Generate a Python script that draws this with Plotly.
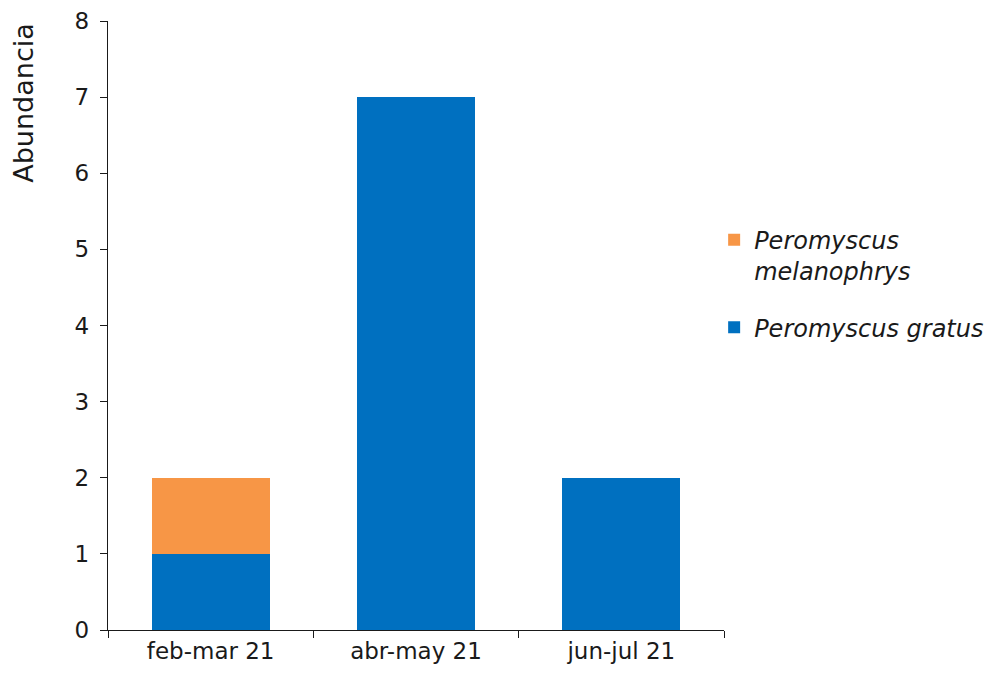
import plotly.graph_objects as go

# Sampling periods and abundance of each species
periods = ["feb-mar 21", "abr-may 21", "jun-jul 21"]
gratus = [1, 7, 2]
melanophrys = [1, 0, 0]

y_ticks = [0, 1, 2, 3, 4, 5, 6, 7, 8]

BLUE = "#0070C0"
ORANGE = "#F79646"
FONT = "DejaVu Sans"
INK = "#1a1a1a"

fig = go.Figure()
fig.add_trace(go.Bar(
    x=periods, y=gratus, name="<i>Peromyscus gratus</i>",
    legendgroup="gratus", legendrank=2,
    marker=dict(color=BLUE, line=dict(width=0)),
))
fig.add_trace(go.Bar(
    x=periods, y=melanophrys, name="<i>Peromyscus<br>melanophrys</i>",
    legendgroup="melanophrys", legendrank=1,
    marker=dict(color=ORANGE, line=dict(width=0)),
))

fig.update_layout(
    width=1005, height=680,
    barmode="stack", bargap=0.425,
    plot_bgcolor="white", paper_bgcolor="white",
    margin=dict(l=108, r=281, t=21, b=50, autoexpand=False),
    font=dict(family=FONT, size=23, color=INK),
    showlegend=True,
    legend=dict(
        x=0.984, xanchor="left", y=0.677, yanchor="top",
        traceorder="grouped", valign="top",
        font=dict(family=FONT, size=24, color=INK),
        tracegroupgap=22, itemwidth=30,
    ),
)

fig.update_xaxes(
    showline=True, linecolor=INK, linewidth=1.3,
    ticks="outside", ticklen=7, tickcolor=INK, tickwidth=1.3,
    tickson="boundaries", showgrid=False, automargin=False,
    tickfont=dict(size=23),
)
fig.update_yaxes(
    range=[0, 8], tickvals=y_ticks,
    showline=True, linecolor=INK, linewidth=1.3,
    ticks="outside", ticklen=7, tickcolor=INK, tickwidth=1.3,
    ticklabelstandoff=6, automargin=False,
    showgrid=False, zeroline=False,
    tickfont=dict(size=23),
)

# Vertical axis title placed at the top of the axis
fig.add_annotation(
    text="Abundancia", textangle=-90,
    xref="paper", yref="paper", x=-0.11, y=1.0,
    xanchor="right", yanchor="top", showarrow=False,
    font=dict(family=FONT, size=27, color=INK),
)

fig.write_html("out.html")
